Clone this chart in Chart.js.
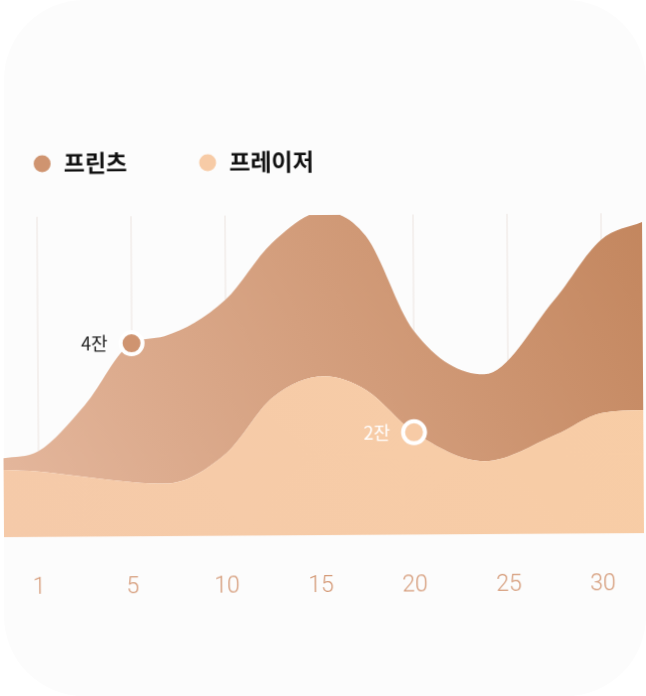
<!DOCTYPE html>
<html>
<head>
<meta charset="utf-8">
<script src="https://cdn.jsdelivr.net/npm/chart.js@4.4.1/dist/chart.umd.min.js"></script>
<style>
  html, body { margin: 0; padding: 0; background: #ffffff; }
  #wrap { position: relative; width: 646px; height: 696px; overflow: hidden; }
  #card { position: absolute; left: 4px; top: 0; width: 642px; height: 696px; background: #fcfcfc; border-radius: 80px; }
  #c { position: absolute; left: 0; top: 0; transform: rotate(-0.36deg); transform-origin: 323px 375px; }
</style>
</head>
<body>
<div id="wrap">
  <div id="card"></div>
  <canvas id="c" width="646" height="696"></canvas>
</div>
<script>
// ---- data ----
const tickLabels = ['1', '5', '10', '15', '20', '25', '30'];
const positions = [-0.37, 0, 0.5, 1, 1.35, 2, 2.5, 3.05, 3.5, 4, 4.75, 5.5, 6, 6.44];
const seriesNames = ['프레이저', '프린츠'];
const fraserValues = [1.26, 1.23, 1.12, 1.02, 0.99, 1.55, 2.59, 2.98, 2.71, 1.92, 1.37, 1.85, 2.26, 2.31];
const printsValues = [0.22, 0.38, 1.35, 2.60, 2.76, 2.87, 2.89, 3.08, 2.89, 1.91, 1.63, 2.53, 3.24, 3.52];
const calloutTexts = ['2잔', '4잔'];
const calloutIndex = [9, 3];

const colors = {
  fraser: '#f7cba6',
  prints: '#cf9470'
};

function pts(vals) { return vals.map((v, i) => ({ x: positions[i], y: v })); }

function gradFill(ctx, c1, c2) {
  const ca = ctx.chart.chartArea;
  if (!ca) return c1;
  const g = ctx.chart.ctx.createLinearGradient(ca.left, ca.bottom, ca.right, ca.top);
  g.addColorStop(0, c1);
  g.addColorStop(1, c2);
  return g;
}

const calloutPlugin = {
  id: 'callouts',
  afterDatasetsDraw(chart) {
    const ctx = chart.ctx;
    ctx.save();
    ctx.font = '400 18px "Noto Sans CJK KR", "Noto Sans", sans-serif';
    ctx.textAlign = 'right';
    ctx.textBaseline = 'middle';
    chart.data.datasets.forEach((ds, di) => {
      const el = chart.getDatasetMeta(di).data[calloutIndex[di]];
      if (!el) return;
      ctx.fillStyle = di === 0 ? '#ffffff' : '#222222';
      ctx.fillText(calloutTexts[di], el.x - 24, el.y);
    });
    ctx.restore();
  }
};

const legendPlugin = {
  id: 'customLegend',
  afterDraw(chart) {
    const ctx = chart.ctx;
    ctx.save();
    ctx.font = '700 23px "Noto Sans CJK KR", "Noto Sans", sans-serif';
    ctx.textBaseline = 'middle';
    ctx.textAlign = 'left';
    const order = [1, 0];
    let x = 35;
    const y = 161;
    order.forEach(di => {
      const ds = chart.data.datasets[di];
      ctx.fillStyle = ds.pointBackgroundColor;
      ctx.beginPath();
      ctx.arc(x + 8.5, y + 1, 8.5, 0, Math.PI * 2);
      ctx.fill();
      ctx.fillStyle = '#111111';
      ctx.fillText(ds.label, x + 30, y);
      x += 30 + ctx.measureText(ds.label).width + 72;
    });
    ctx.restore();
  }
};

new Chart(document.getElementById('c'), {
  type: 'line',
  data: {
    datasets: [
      {
        label: seriesNames[0],
        data: pts(fraserValues),
        fill: 'origin',
        backgroundColor: (ctx) => gradFill(ctx, '#f5caa9', '#f8cda5'),
        borderWidth: 0,
        borderColor: 'rgba(0,0,0,0)',
        pointBackgroundColor: colors.fraser,
        pointBorderColor: '#ffffff',
        pointBorderWidth: 4,
        pointRadius: (ctx) => ctx.dataIndex === calloutIndex[0] ? 11 : 0,
        pointHoverRadius: 0,
        cubicInterpolationMode: 'monotone'
      },
      {
        label: seriesNames[1],
        data: pts(printsValues),
        fill: '-1',
        backgroundColor: (ctx) => gradFill(ctx, '#e5b89e', '#c3865e'),
        borderWidth: 0,
        borderColor: 'rgba(0,0,0,0)',
        pointBackgroundColor: colors.prints,
        pointBorderColor: '#ffffff',
        pointBorderWidth: 4,
        pointRadius: (ctx) => ctx.dataIndex === calloutIndex[1] ? 11 : 0,
        pointHoverRadius: 0,
        cubicInterpolationMode: 'monotone'
      }
    ]
  },
  options: {
    responsive: false,
    animation: false,
    clip: false,
    events: [],
    layout: { padding: { top: 215, left: 3, right: 3, bottom: 92 } },
    plugins: { legend: { display: false }, tooltip: { enabled: false } },
    scales: {
      x: {
        type: 'linear',
        min: positions[0],
        max: positions[positions.length - 1],
        z: 1,
        afterBuildTicks: (axis) => { axis.ticks = tickLabels.map((t, i) => ({ value: i })); },
        ticks: {
          padding: 4,
          maxRotation: 0,
          color: '#d59b79',
          font: { family: '"Liberation Sans Narrow", "Roboto", sans-serif', size: 23, weight: 300 },
          callback: (v) => tickLabels[v] ?? ''
        },
        grid: { color: 'rgba(236,226,221,0.45)', lineWidth: 2, drawTicks: true, tickLength: 33, tickColor: 'rgba(0,0,0,0)' },
        border: { display: false }
      },
      y: {
        display: false,
        stacked: true,
        min: 0,
        max: 6
      }
    }
  },
  plugins: [calloutPlugin, legendPlugin]
});
</script>
</body>
</html>
